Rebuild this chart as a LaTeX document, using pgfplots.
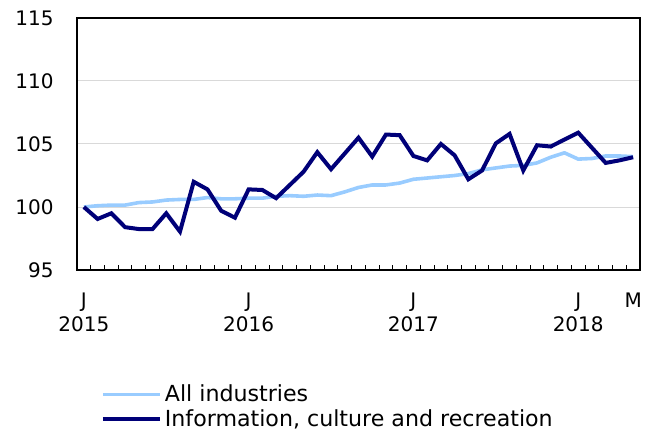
\documentclass[border=0pt]{standalone}
\usepackage{fontspec}
\setmainfont{DejaVu Sans}
\usepackage{pgfplots}
\pgfplotsset{compat=1.18}
\usepackage{pgfplotstable}
\definecolor{darkser}{HTML}{000078}
\definecolor{lightser}{HTML}{99CCFF}
\definecolor{gridc}{HTML}{D9D9D9}
\pgfplotstableread{
i all info
0 100.00 100.00
1 100.10 99.05
2 100.15 99.50
3 100.15 98.40
4 100.35 98.25
5 100.40 98.25
6 100.55 99.50
7 100.60 98.05
8 100.60 102.00
9 100.75 101.40
10 100.65 99.70
11 100.65 99.15
12 100.70 101.40
13 100.70 101.35
14 100.85 100.70
15 100.90 101.75
16 100.85 102.80
17 100.95 104.35
18 100.90 103.00
19 101.20 104.25
20 101.55 105.50
21 101.75 104.00
22 101.75 105.75
23 101.90 105.70
24 102.20 104.05
25 102.30 103.70
26 102.40 105.00
27 102.50 104.10
28 102.65 102.20
29 102.95 102.90
30 103.10 105.05
31 103.25 105.80
32 103.30 102.90
33 103.50 104.90
34 103.95 104.80
35 104.30 105.35
36 103.80 105.90
37 103.85 104.70
38 104.05 103.50
39 104.05 103.70
40 104.00 103.95
}\datatab
\begin{document}
\begin{tikzpicture}
\useasboundingbox (0,0) rectangle (489pt,324pt);
\begin{axis}[
  at={(57.75pt,121.5pt)}, anchor=south west,
  scale only axis, width=422.25pt, height=189pt,
  xmin=-0.5, xmax=40.5, ymin=95, ymax=115,
  ytick={95,100,105,110,115},
  xtick={0,12,24,36,40},
  xticklabels={{J\\2015},{J\\2016},{J\\2017},{J\\2018},{M}},
  xticklabel style={align=center, yshift=-13.5pt, text depth=0pt},
  yticklabel style={xshift=-14pt},
  minor xtick={-0.5,0.5,...,40.5},
  major tick length=0pt, minor tick length=4pt,
  tick pos=bottom, ytick pos=left,
  tick style={black, line width=0.75pt},
  minor tick style={black, line width=0.75pt},
  ymajorgrids, grid style={gridc, line width=0.75pt},
  axis line style={black, line width=0.8pt},
  /pgf/number format/assume math mode=true,
  tick label style={font=\fontsize{15pt}{18pt}\selectfont},
  legend style={draw=none, fill=none, at={(0.042,-0.445)}, anchor=north west,
    font=\fontsize{16.6pt}{19.5pt}\selectfont, inner sep=0pt, row sep=0pt,
    /tikz/every even column/.append style={column sep=0pt}},
  legend cell align=left,
  legend image code/.code={\draw[#1] (0pt,0pt) -- (43pt,0pt);},
]
\addplot[lightser, line width=2.7pt, line join=round] table[x=i, y=all] {\datatab};
\addlegendentry{All industries}
\addplot[darkser, line width=3pt, line join=miter] table[x=i, y=info] {\datatab};
\addlegendentry{Information, culture and recreation}
\end{axis}
\end{tikzpicture}
\end{document}
